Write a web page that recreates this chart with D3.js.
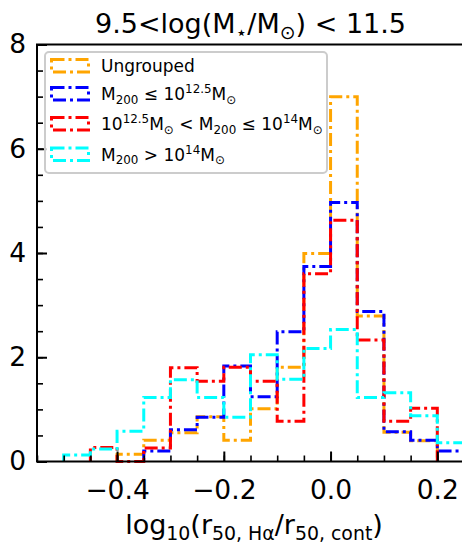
<!DOCTYPE html>
<meta charset="utf-8">
<style>
  body { margin: 0; background: #fff; }
  text { font-family: "DejaVu Sans", sans-serif; fill: #000; }
</style>
<body>
<div id="chart"></div>
<script src="https://d3js.org/d3.v7.min.js"></script>
<script>
// histogram bin edges, width 0.05
var binEdges = [-0.5, -0.45, -0.4, -0.35, -0.3, -0.25, -0.2, -0.15, -0.1, -0.05, 0.0, 0.05, 0.1, 0.15, 0.2, 0.25];

// normalised counts per bin (density)
var ungrouped = [0, 0, 0.14, 0.41, 0.55, 0.86, 0.41, 1.01, 1.81, 3.99, 7.0, 2.79, 0.56, 0.40, 0];
var lowMass   = [0, 0, 0, 0.2, 0.61, 0.85, 1.83, 1.24, 2.49, 3.74, 4.97, 2.88, 0.57, 0.41, 0.2];
var midMass   = [0, 0.27, 0, 0.26, 1.8, 1.54, 1.81, 1.54, 0.77, 3.6, 4.63, 2.33, 0.77, 1.02, 0];
var highMass  = [0.125, 0.24, 0.58, 1.23, 1.57, 1.23, 0.85, 2.05, 1.58, 2.17, 2.53, 1.23, 1.32, 0.88, 0.36];

var xTicks = [-0.4, -0.2, 0.0, 0.2];
var yTicks = [0, 2, 4, 6, 8];

// legend labels as [text, kind] pieces (kind: sub / sup)
var legendLabels = [
  [["Ungrouped"]],
  [["M"], ["200", "sub"], [" \u2264 10"], ["12.5", "sup"], ["M"], ["\u2299", "sub"]],
  [["10"], ["12.5", "sup"], ["M"], ["\u2299", "sub"], [" < M"], ["200", "sub"], [" \u2264 10"], ["14", "sup"], ["M"], ["\u2299", "sub"]],
  [["M"], ["200", "sub"], [" > 10"], ["14", "sup"], ["M"], ["\u2299", "sub"]]
];
var colors = ["#ffa500", "#0000ff", "#ff0000", "#00ffff"];
var series = [ungrouped, lowMass, midMass, highMass];

var width = 462, height = 547;
var margin = { top: 44.5, right: -2, bottom: 85.5, left: 37 };

var x = d3.scaleLinear()
  .domain([-0.55, 0.25])
  .range([margin.left, width - margin.right]);

var y = d3.scaleLinear()
  .domain([0, 8])
  .range([height - margin.bottom, margin.top]);

var svg = d3.select("#chart")
  .append("svg")
  .attr("width", width)
  .attr("height", height);

var dash = "13,4,3,4";

// step outline for one histogram, skipping empty bins at both ends
function stepPath(vals) {
  var first = vals.findIndex(function(v) { return v > 0; });
  var last = vals.length - 1;
  while (vals[last] === 0) last--;
  var pts = [[binEdges[first], 0]];
  for (var i = first; i <= last; i++) {
    pts.push([binEdges[i], vals[i]]);
    pts.push([binEdges[i + 1], vals[i]]);
  }
  pts.push([binEdges[last + 1], 0]);
  return d3.line()
    .x(function(d) { return x(d[0]); })
    .y(function(d) { return y(d[1]); })(pts);
}

svg.append("g")
  .selectAll("path")
  .data(series)
  .enter()
  .append("path")
  .attr("d", stepPath)
  .attr("fill", "none")
  .attr("stroke", function(d, i) { return colors[i]; })
  .attr("stroke-width", 3)
  .attr("stroke-dasharray", dash);

// axes: ticks point inward
var xMinor = d3.range(-0.55, 0.2501, 0.05).map(function(v) { return Math.round(v * 100) / 100; });
var yMinor = d3.range(0, 8.01, 0.5);

svg.append("g")
  .attr("transform", "translate(0," + y(0) + ")")
  .call(d3.axisBottom(x).tickValues(xMinor).tickSize(-6).tickFormat(""))
  .call(function(g) { g.select(".domain").remove(); g.selectAll("line").attr("stroke-width", 1.6); });

svg.append("g")
  .attr("class", "x axis")
  .attr("transform", "translate(0," + y(0) + ")")
  .call(d3.axisBottom(x).tickValues(xTicks).tickSize(-10).tickPadding(19).tickFormat(d3.format(".1f")))
  .call(function(g) {
    g.select(".domain").remove();
    g.selectAll("line").attr("stroke-width", 2);
    g.selectAll("text").attr("font-size", "26.5px").attr("font-family", "DejaVu Sans");
  });

svg.append("g")
  .attr("transform", "translate(" + x(-0.55) + ",0)")
  .call(d3.axisLeft(y).tickValues(yMinor).tickSize(-6).tickFormat(""))
  .call(function(g) { g.select(".domain").remove(); g.selectAll("line").attr("stroke-width", 1.6); });

svg.append("g")
  .attr("class", "y axis")
  .attr("transform", "translate(" + x(-0.55) + ",0)")
  .call(d3.axisLeft(y).tickValues(yTicks).tickSize(-10).tickPadding(11).tickFormat(d3.format("d")))
  .call(function(g) {
    g.select(".domain").remove();
    g.selectAll("line").attr("stroke-width", 2);
    g.selectAll("text").attr("font-size", "26.5px").attr("font-family", "DejaVu Sans");
  });

// frame
svg.append("rect")
  .attr("x", x(-0.55))
  .attr("y", y(8))
  .attr("width", x(0.25) - x(-0.55))
  .attr("height", y(0) - y(8))
  .attr("fill", "none")
  .attr("stroke", "#000")
  .attr("stroke-width", 2);

// rich text helper for sub/superscripts
function richText(sel, parts, size) {
  var shift = 0;
  parts.forEach(function(p) {
    var t = sel.append("tspan").text(p[0]);
    var target = 0;
    if (p[1] === "sub") target = 0.22 * size;
    if (p[1] === "sup") target = -0.4 * size;
    t.attr("dy", target - shift);
    shift = target;
    if (p[1]) t.attr("font-size", (0.7 * size) + "px");
  });
}

// legend
var legend = svg.append("g");
legend.append("rect")
  .attr("x", 45)
  .attr("y", 52)
  .attr("width", 282)
  .attr("height", 121)
  .attr("rx", 4)
  .attr("fill", "#fff")
  .attr("fill-opacity", 0.8)
  .attr("stroke", "#cccccc")
  .attr("stroke-width", 2);

var rowBase = [72, 100, 130, 160.5];
legendLabels.forEach(function(lab, i) {
  legend.append("rect")
    .attr("x", 51.5)
    .attr("y", rowBase[i] - 12.5)
    .attr("width", 37)
    .attr("height", 12.5)
    .attr("fill", "none")
    .attr("stroke", colors[i])
    .attr("stroke-width", 3)
    .attr("stroke-dasharray", dash);
  var t = legend.append("text")
    .attr("x", 101)
    .attr("y", rowBase[i])
    .attr("font-size", "17px");
  richText(t, lab, 17);
});

// title
var title = svg.append("text")
  .attr("x", (x(-0.55) + x(0.25)) / 2)
  .attr("y", 33)
  .attr("text-anchor", "middle")
  .attr("font-size", "27px");
richText(title, [["9.5<log(M"], ["\u22c6", "sub"], ["/M"], ["\u2299", "sub"], [") < 11.5"]], 27);

// x label
var xlab = svg.append("text")
  .attr("x", 254)
  .attr("y", 534)
  .attr("text-anchor", "middle")
  .attr("font-size", "27px");
richText(xlab, [["log"], ["10", "sub"], ["(r"], ["50, H\u03b1", "sub"], ["/r"], ["50, cont", "sub"], [")"]], 27);
</script>
</body>
